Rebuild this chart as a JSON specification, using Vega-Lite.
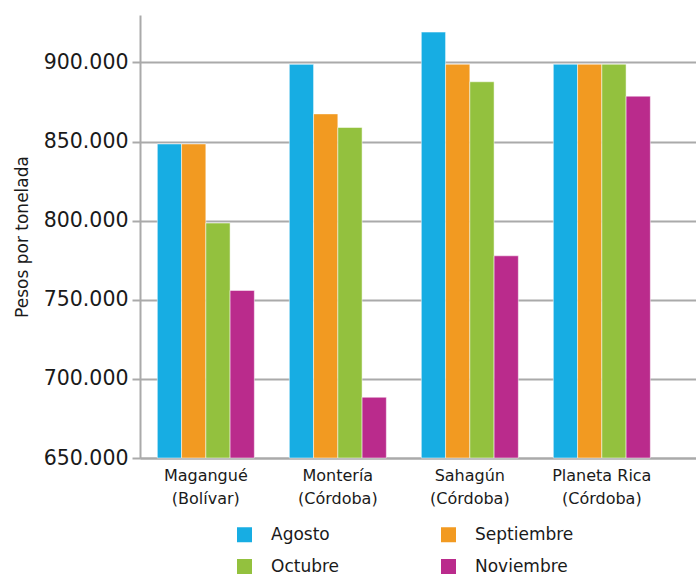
{
  "$schema": "https://vega.github.io/schema/vega-lite/v6.json",
  "width": 556,
  "height": 443,
  "autosize": {"type": "none"},
  "padding": {"left": 140, "top": 15, "right": 0, "bottom": 119},
  "background": "white",
  "config": {
    "view": {"stroke": null},
    "font": "DejaVu Sans",
    "axis": {"labelFont": "DejaVu Sans", "titleFont": "DejaVu Sans", "labelColor": "#1a1a1a", "titleColor": "#1a1a1a"}
  },
  "data": {
    "values": [
      {"ciudad": "Magangué (Bolívar)", "mes": "Agosto", "valor": 848500},
      {"ciudad": "Magangué (Bolívar)", "mes": "Septiembre", "valor": 848500},
      {"ciudad": "Magangué (Bolívar)", "mes": "Octubre", "valor": 798500},
      {"ciudad": "Magangué (Bolívar)", "mes": "Noviembre", "valor": 755900},
      {"ciudad": "Montería (Córdoba)", "mes": "Agosto", "valor": 898800},
      {"ciudad": "Montería (Córdoba)", "mes": "Septiembre", "valor": 867500},
      {"ciudad": "Montería (Córdoba)", "mes": "Octubre", "valor": 858900},
      {"ciudad": "Montería (Córdoba)", "mes": "Noviembre", "valor": 688400},
      {"ciudad": "Sahagún (Córdoba)", "mes": "Agosto", "valor": 919200},
      {"ciudad": "Sahagún (Córdoba)", "mes": "Septiembre", "valor": 898900},
      {"ciudad": "Sahagún (Córdoba)", "mes": "Octubre", "valor": 887800},
      {"ciudad": "Sahagún (Córdoba)", "mes": "Noviembre", "valor": 777800},
      {"ciudad": "Planeta Rica (Córdoba)", "mes": "Agosto", "valor": 898900},
      {"ciudad": "Planeta Rica (Córdoba)", "mes": "Septiembre", "valor": 898900},
      {"ciudad": "Planeta Rica (Córdoba)", "mes": "Octubre", "valor": 898900},
      {"ciudad": "Planeta Rica (Córdoba)", "mes": "Noviembre", "valor": 878700}
    ]
  },
  "mark": {"type": "bar", "stroke": "white", "strokeWidth": 0.5},
  "encoding": {
    "x": {
      "field": "ciudad",
      "type": "nominal",
      "sort": null,
      "scale": {"paddingInner": 0.265, "paddingOuter": 0.2386, "align": 0.275},
      "axis": {
        "title": null,
        "labelAngle": 0,
        "labelFontSize": 16,
        "labelLineHeight": 23,
        "labelPadding": 9,
        "ticks": false,
        "domainColor": "#aaaaaa",
        "domainWidth": 2,
        "labelExpr": "[split(datum.label, ' (')[0], '(' + split(datum.label, ' (')[1]]"
      }
    },
    "xOffset": {
      "field": "mes",
      "type": "nominal",
      "sort": ["Agosto", "Septiembre", "Octubre", "Noviembre"],
      "scale": {"paddingInner": 0, "paddingOuter": 0}
    },
    "y": {
      "field": "valor",
      "type": "quantitative",
      "scale": {"domain": [650000, 930000], "nice": false, "zero": false},
      "axis": {
        "title": "Pesos por tonelada",
        "titleFontSize": 17,
        "titleFontWeight": "normal",
        "titlePadding": 12,
        "values": [650000, 700000, 750000, 800000, 850000, 900000],
        "labelFontSize": 20.5,
        "labelPadding": 4,
        "labelExpr": "replace(format(datum.value, ',d'), ',', '.')",
        "domainColor": "#aaaaaa",
        "domainWidth": 2,
        "tickColor": "#aaaaaa",
        "tickWidth": 2,
        "tickSize": 8,
        "grid": true,
        "gridColor": "#aaaaaa",
        "gridWidth": 2
      }
    },
    "y2": {"datum": 650000},
    "color": {
      "field": "mes",
      "type": "nominal",
      "sort": ["Agosto", "Septiembre", "Octubre", "Noviembre"],
      "scale": {
        "domain": ["Agosto", "Septiembre", "Octubre", "Noviembre"],
        "range": ["#17ade3", "#f29a21", "#93c13e", "#ba2b8c"]
      },
      "legend": {
        "title": null,
        "orient": "none",
        "legendX": 96,
        "legendY": 511,
        "columns": 2,
        "direction": "horizontal",
        "symbolType": "square",
        "symbolSize": 225,
        "symbolStrokeWidth": 0,
        "symbolOpacity": 1,
        "labelFontSize": 17,
        "labelFont": "DejaVu Sans",
        "labelColor": "#1a1a1a",
        "labelOffset": 18,
        "rowPadding": 14,
        "columnPadding": 100
      }
    }
  }
}
